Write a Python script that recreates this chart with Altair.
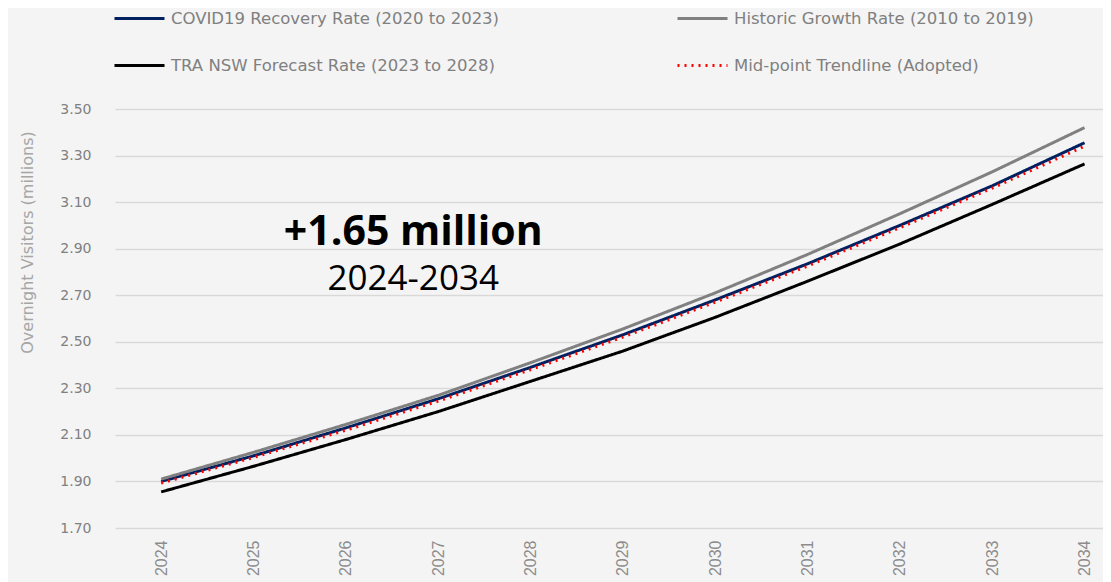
import altair as alt
import pandas as pd

years = list(range(2024, 2035))
series_names = [
    "COVID19 Recovery Rate (2020 to 2023)",
    "Historic Growth Rate (2010 to 2019)",
    "TRA NSW Forecast Rate (2023 to 2028)",
    "Mid-point Trendline (Adopted)",
]
covid = [1.900, 2.010, 2.130, 2.255, 2.390, 2.530, 2.680, 2.835, 3.000, 3.170, 3.355]
historic = [1.910, 2.025, 2.145, 2.270, 2.410, 2.555, 2.710, 2.875, 3.050, 3.230, 3.420]
tra = [1.855, 1.965, 2.080, 2.200, 2.330, 2.460, 2.605, 2.760, 2.920, 3.090, 3.264]
midpoint = [1.893, 2.003, 2.120, 2.245, 2.380, 2.520, 2.670, 2.825, 2.990, 3.160, 3.340]
colors = ["#002060", "#808080", "#000000", "#ff0000"]
dashes = [[1, 0], [1, 0], [1, 0], [2, 5]]
y_ticks = [1.70, 1.90, 2.10, 2.30, 2.50, 2.70, 2.90, 3.10, 3.30, 3.50]

rows = []
for name, vals in zip(series_names, [covid, historic, tra, midpoint]):
    for yr, v in zip(years, vals):
        rows.append({"Year": yr, "Visitors": v, "Series": name})
df = pd.DataFrame(rows)

ann = pd.DataFrame([
    {"Year": 2026.73, "Visitors": 2.916, "label": "+1.65 million"},
    {"Year": 2026.73, "Visitors": 2.722, "label": "2024-2034"},
])

x_scale = alt.Scale(domain=[2023.5, 2034.2], nice=False, zero=False)
y_scale = alt.Scale(domain=[1.70, 3.50], nice=False, zero=False)

legend_kw = dict(title=None, orient="none", legendX=-2, legendY=-117,
                 columns=2, direction="horizontal", columnPadding=171, rowPadding=12,
                 symbolType="stroke", symbolSize=2500, symbolStrokeWidth=3,
                 labelOffset=5, labelFont="DejaVu Sans", labelFontSize=16.5,
                 labelColor="#808080", padding=0, labelLimit=500)

lines = alt.Chart(df).mark_line(strokeWidth=3).encode(
    x=alt.X("Year:Q", scale=x_scale,
            axis=alt.Axis(values=years, format="d", labelAngle=270, grid=False,
                          domain=False, ticks=False, labelPadding=12,
                          labelFont="Liberation Sans", labelFontSize=16,
                          labelColor="#8c8c8c", title=None)),
    y=alt.Y("Visitors:Q", scale=y_scale,
            axis=alt.Axis(values=y_ticks, format=".2f", grid=True, gridColor="#d9d9d9",
                          gridWidth=1.5, domain=False, ticks=False, labelPadding=24,
                          labelFont="DejaVu Sans", labelFontSize=14, labelColor="#808080",
                          title="Overnight Visitors (millions)", titleFont="DejaVu Sans",
                          titleFontSize=16, titleFontWeight="normal", titleColor="#a6a6a6",
                          titleX=-88, titleY=133, titleAngle=270, titleAlign="center",
                          titleBaseline="middle")),
    color=alt.Color("Series:N", scale=alt.Scale(domain=series_names, range=colors),
                    legend=alt.Legend(**legend_kw)),
    strokeDash=alt.StrokeDash("Series:N", scale=alt.Scale(domain=series_names, range=dashes),
                              legend=alt.Legend(**legend_kw)),
)

big = alt.Chart(ann.iloc[[0]]).mark_text(font="Open Sans", fontSize=41, fontWeight="bold",
                                         color="#000000", align="center",
                                         baseline="alphabetic").encode(
    x=alt.X("Year:Q", scale=x_scale), y=alt.Y("Visitors:Q", scale=y_scale), text="label:N")
small = alt.Chart(ann.iloc[[1]]).mark_text(font="Open Sans", fontSize=35, fontWeight="normal",
                                           color="#000000", align="center",
                                           baseline="alphabetic").encode(
    x=alt.X("Year:Q", scale=x_scale), y=alt.Y("Visitors:Q", scale=y_scale), text="label:N")

chart = alt.layer(lines, big, small).properties(
    width=988, height=419,
    autosize=alt.AutoSizeParams(type="none"),
    padding={"left": 107, "top": 101, "right": 0, "bottom": 54},
    background="#f4f4f4",
).configure_view(stroke=None)

chart.save("out.html", embed_options={"renderer": "svg", "actions": False})
